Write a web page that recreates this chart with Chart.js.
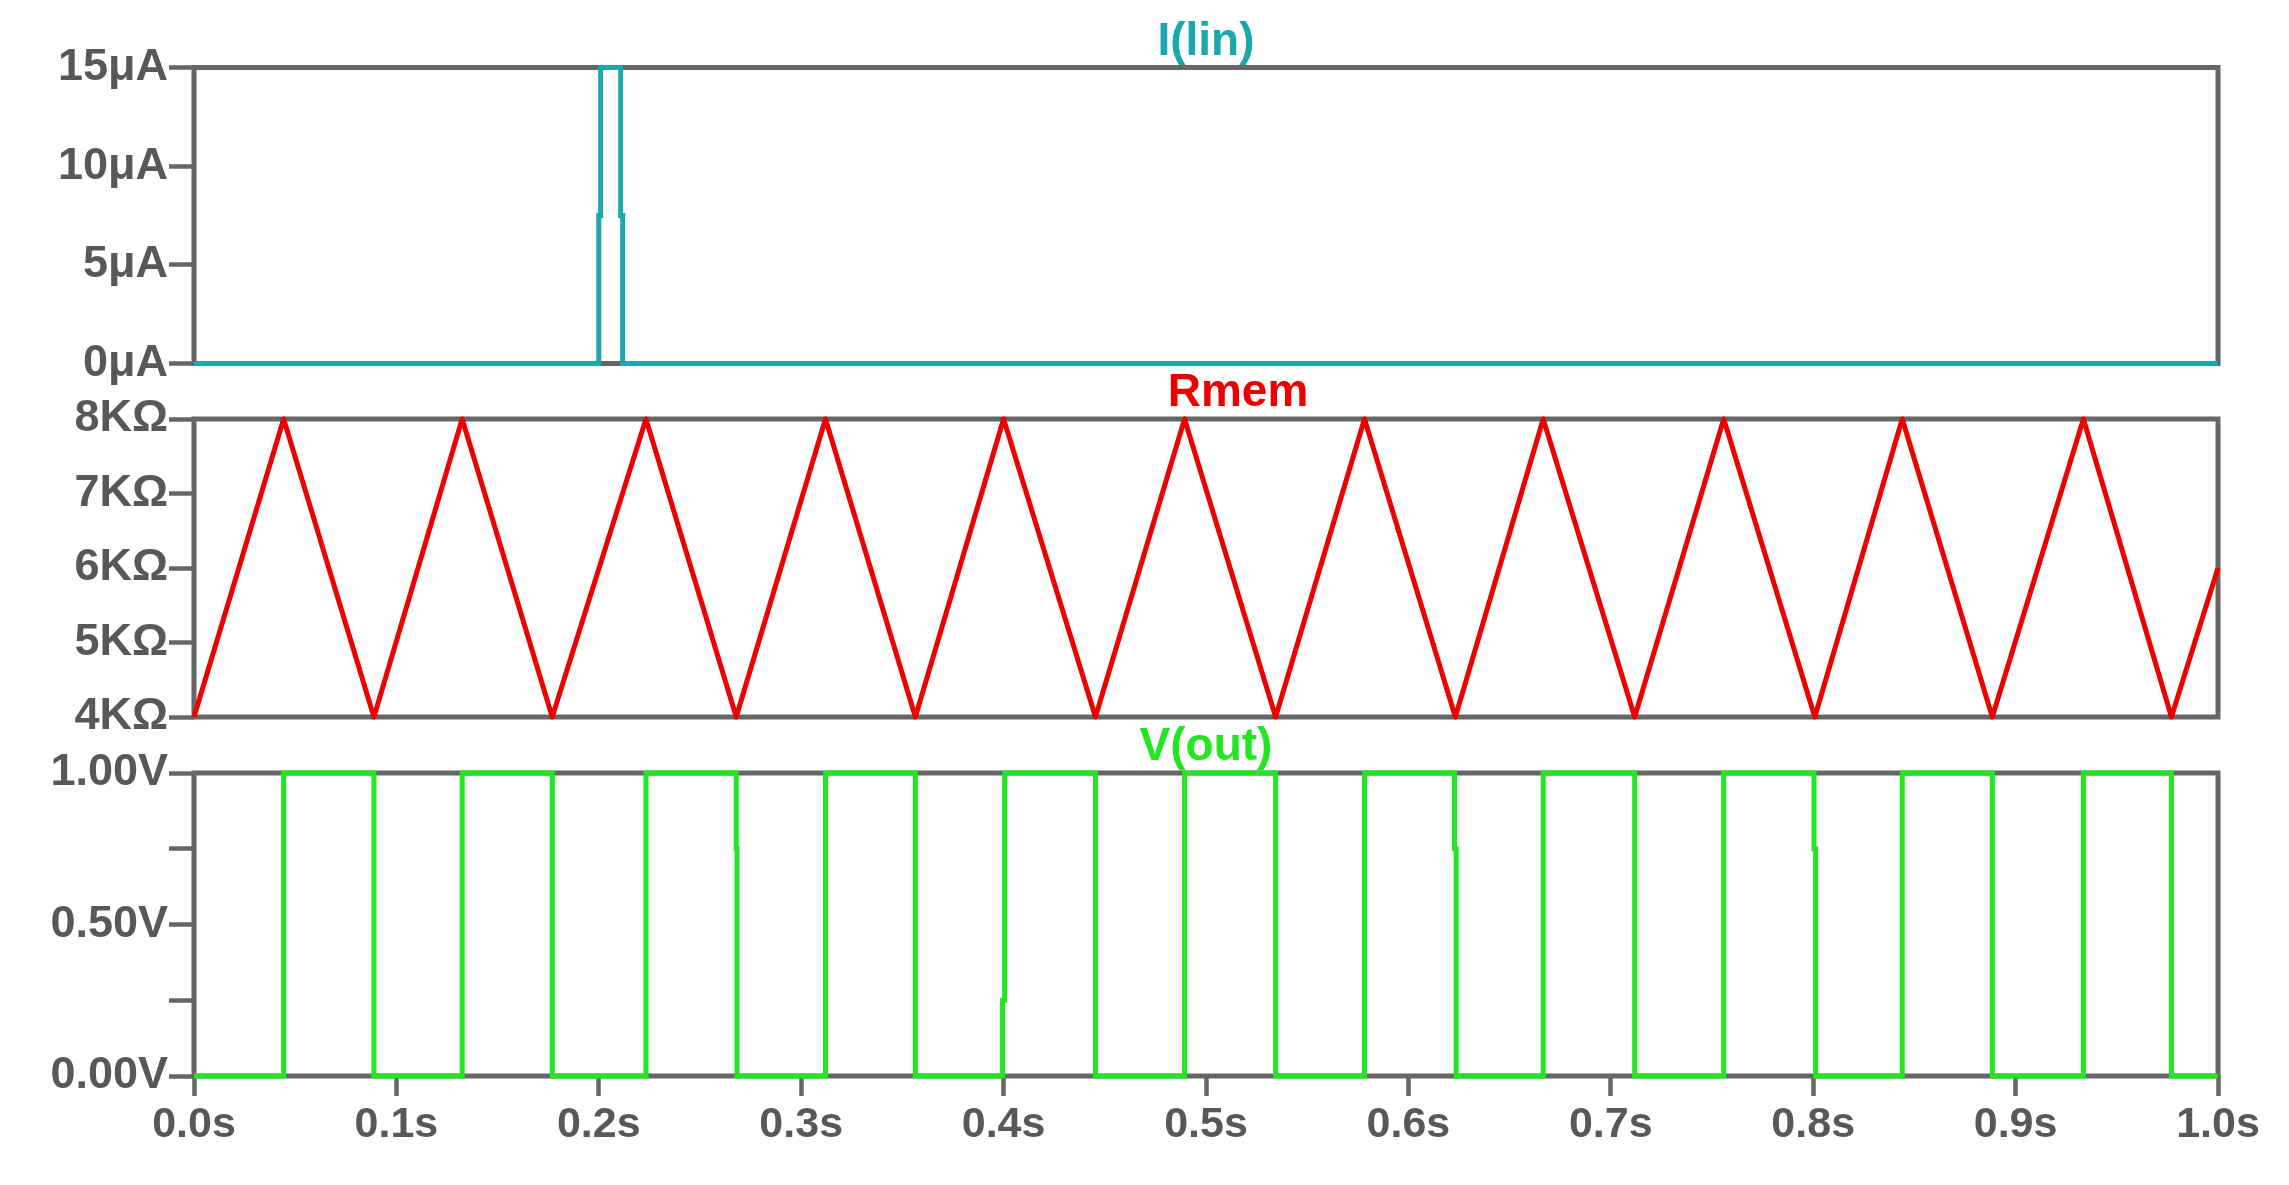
<!DOCTYPE html>
<html>
<head>
<meta charset="utf-8">
<script src="https://cdn.jsdelivr.net/npm/chart.js@4.4.1/dist/chart.umd.min.js"></script>
<style>
html,body{margin:0;padding:0;background:#ffffff;overflow:hidden;width:2289px;height:1185px}
canvas{position:absolute;left:0;top:0}
</style>
</head>
<body>
<canvas id="cI" width="2289" height="1185"></canvas>
<canvas id="cR" width="2289" height="1185"></canvas>
<canvas id="cV" width="2289" height="1185"></canvas>
<script>
// ---- Data ----
const timeTicks = [0, 0.1, 0.2, 0.3, 0.4, 0.5, 0.6, 0.7, 0.8, 0.9, 1.0];
const timeTickLabels = ['0.0s','0.1s','0.2s','0.3s','0.4s','0.5s','0.6s','0.7s','0.8s','0.9s','1.0s'];

const iTicks = [0, 5, 10, 15];
const iTickLabels = ['0μA','5μA','10μA','15μA'];
const rTicks = [4, 5, 6, 7, 8];
const rTickLabels = ['4KΩ','5KΩ','6KΩ','7KΩ','8KΩ'];
const vTicks = [0, 0.25, 0.5, 0.75, 1.0];
const vTickLabels = ['0.00V','','0.50V','','1.00V'];

// I(lin) in µA
const iTimes  = [0, 0.2000, 0.2000, 0.2009, 0.2009, 0.2108, 0.2108, 0.2118, 0.2118, 1.0];
const iValues = [0, 0,      7.5,    7.5,    15,     15,     7.5,    7.5,    0,      0];

// Rmem in kΩ
const rTimes  = [0, 0.0443, 0.0889, 0.1325, 0.1770, 0.2233, 0.2679, 0.3120, 0.3564, 0.4000, 0.4454, 0.4894,
                 0.5344, 0.5783, 0.6232, 0.6666, 0.7118, 0.7558, 0.8008, 0.8440, 0.8885, 0.9335, 0.9770, 1.0];
const rValues = [4, 8, 4, 8, 4, 8, 4, 8, 4, 8, 4, 8,
                 4, 8, 4, 8, 4, 8, 4, 8, 4, 8, 4, 6.0];

// V(out) in V
const vTimes  = [0, 0.0443, 0.0443, 0.0889, 0.0889, 0.1325, 0.1325, 0.1770, 0.1770, 0.2233, 0.2233,
                 0.2679, 0.2679, 0.2683, 0.2683, 0.3120, 0.3120, 0.3564, 0.3564,
                 0.3995, 0.3995, 0.4005, 0.4005, 0.4454, 0.4454, 0.4894, 0.4894, 0.5344, 0.5344,
                 0.5783, 0.5783, 0.6228, 0.6228, 0.6236, 0.6236, 0.6666, 0.6666, 0.7118, 0.7118,
                 0.7558, 0.7558, 0.8004, 0.8004, 0.8012, 0.8012, 0.8440, 0.8440, 0.8885, 0.8885,
                 0.9335, 0.9335, 0.9770, 0.9770, 1.0];
const vValues = [0, 0, 1, 1, 0, 0, 1, 1, 0, 0, 1,
                 1, 0.75, 0.75, 0, 0, 1, 1, 0,
                 0, 0.25, 0.25, 1, 1, 0, 0, 1, 1, 0,
                 0, 1, 1, 0.75, 0.75, 0, 0, 1, 1, 0,
                 0, 1, 1, 0.75, 0.75, 0, 0, 1, 1, 0,
                 0, 1, 1, 0, 0];

// ---- Styling ----
const AXIS = '#666666';
const LABEL = '#585858';
const FONT = 'Liberation Sans';
Chart.defaults.font.family = FONT;

const frame = {
  id: 'frame',
  beforeDatasetsDraw(chart) {
    const a = chart.chartArea, ctx = chart.ctx;
    ctx.save();
    ctx.strokeStyle = AXIS;
    ctx.lineWidth = 5;
    ctx.strokeRect(a.left, a.top, a.right - a.left, a.bottom - a.top);
    ctx.restore();
  }
};
const panelTitle = {
  id: 'panelTitle',
  afterDatasetsDraw(chart, args, opts) {
    const a = chart.chartArea, ctx = chart.ctx;
    ctx.save();
    ctx.font = 'bold 46px "' + FONT + '"';
    ctx.fillStyle = opts.color;
    ctx.textAlign = 'center';
    ctx.textBaseline = 'alphabetic';
    ctx.fillText(opts.text, (a.left + a.right) / 2 + (opts.dx || 0), a.top - 13);
    ctx.restore();
  }
};

function makeChart(id, cfg) {
  const pts = cfg.times.map((t, i) => ({x: t, y: cfg.values[i]}));
  const xHeight = 70;
  return new Chart(document.getElementById(id), {
    type: 'line',
    data: { datasets: [{
      data: pts,
      borderColor: cfg.color,
      borderWidth: 5,
      pointRadius: 0,
      fill: false,
      tension: 0,
      borderJoinStyle: cfg.join,
      clip: 10
    }]},
    options: {
      responsive: false,
      animation: false,
      events: [],
      layout: { padding: { left: 0, right: 71, top: cfg.top,
                           bottom: 1185 - cfg.bottom - (cfg.showX ? xHeight : 0) } },
      plugins: {
        legend: { display: false },
        tooltip: { enabled: false },
        panelTitle: { text: cfg.title, color: cfg.titleColor, dx: cfg.dx || 0 }
      },
      scales: {
        x: {
          type: 'linear', min: 0, max: 1,
          display: cfg.showX,
          afterFit: s => { if (cfg.showX) s.height = xHeight; },
          afterBuildTicks: s => { s.ticks = timeTicks.map(v => ({value: v})); },
          ticks: {
            autoSkip: false, maxRotation: 0, padding: 3,
            color: LABEL,
            font: { family: FONT, weight: 'bold', size: 43 },
            callback: v => timeTickLabels[timeTicks.indexOf(v)]
          },
          grid: { drawOnChartArea: false, drawTicks: true, tickLength: 20, tickWidth: 4.5, tickColor: AXIS },
          border: { display: false }
        },
        y: {
          type: 'linear', min: cfg.yTicks[0], max: cfg.yTicks[cfg.yTicks.length - 1],
          afterFit: s => { s.width = 194; },
          afterBuildTicks: s => { s.ticks = cfg.yTicks.map(v => ({value: v})); },
          ticks: {
            autoSkip: false, padding: 1,
            color: LABEL,
            font: { family: FONT, weight: 'bold', size: 45 },
            callback: v => cfg.yLabels[cfg.yTicks.indexOf(v)]
          },
          grid: { drawOnChartArea: false, drawTicks: true, tickLength: 25, tickWidth: 4.5, tickColor: AXIS },
          border: { display: false }
        }
      }
    },
    plugins: [frame, panelTitle]
  });
}

makeChart('cI', { times: iTimes, values: iValues, color: '#1aa7ad', join: 'miter',
  yTicks: iTicks, yLabels: iTickLabels, top: 67.5, bottom: 363.5, showX: false,
  title: 'I(lin)', titleColor: '#1aa7ad' });
makeChart('cR', { times: rTimes, values: rValues, color: '#ec0000', join: 'round',
  yTicks: rTicks, yLabels: rTickLabels, top: 419, bottom: 717, showX: false,
  title: 'Rmem', titleColor: '#ec0000', dx: 32 });
makeChart('cV', { times: vTimes, values: vValues, color: '#22e622', join: 'miter',
  yTicks: vTicks, yLabels: vTickLabels, top: 773, bottom: 1076, showX: true,
  title: 'V(out)', titleColor: '#22e622' });
</script>
</body>
</html>
